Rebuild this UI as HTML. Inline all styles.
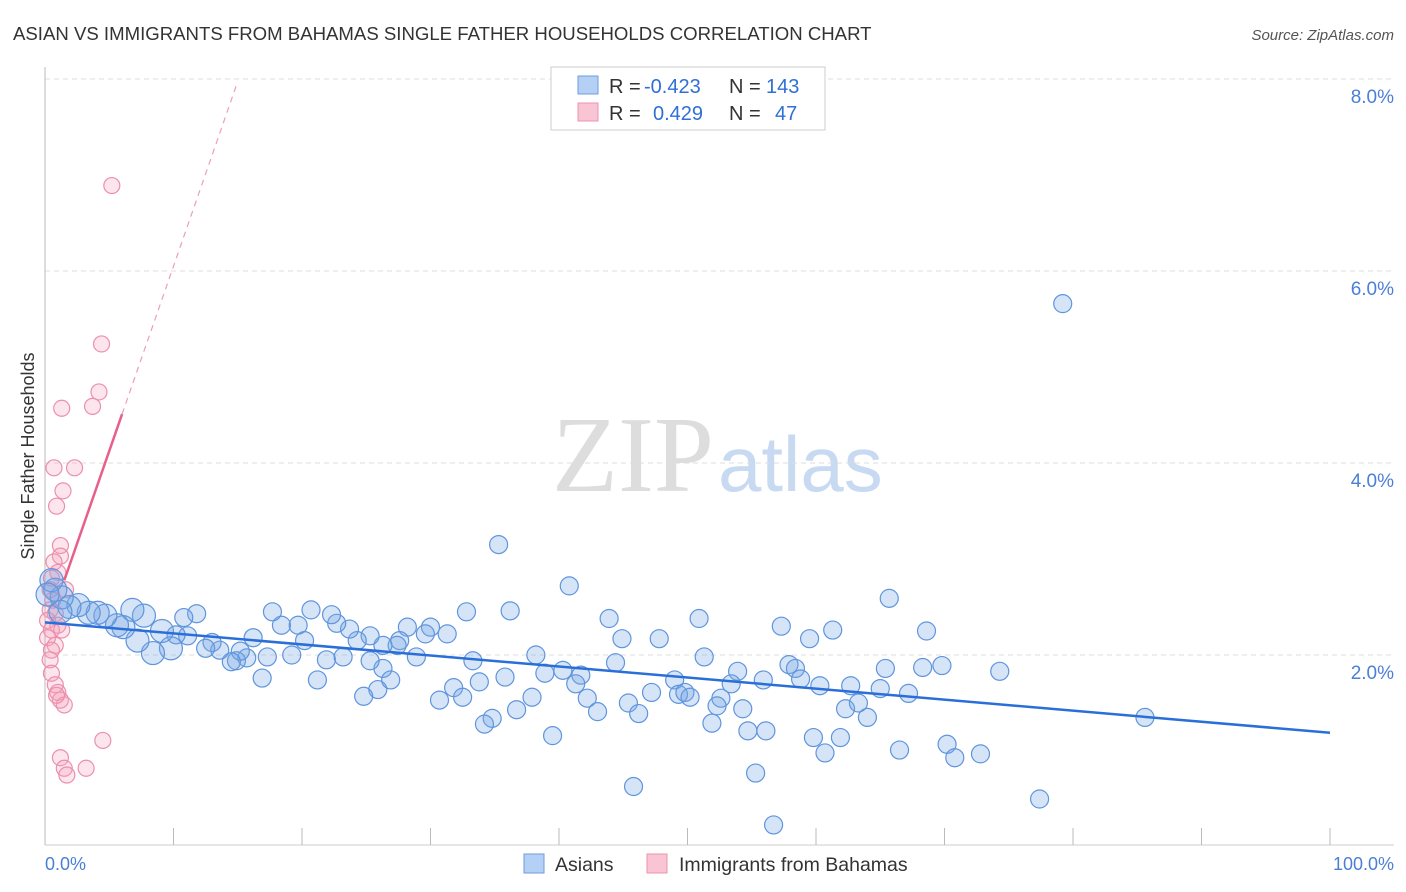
<!DOCTYPE html>
<html><head><meta charset="utf-8"><style>
body{margin:0;background:#fff;font-family:"Liberation Sans",sans-serif;}
svg{display:block}
</style></head><body>
<svg width="1406" height="892" xmlns="http://www.w3.org/2000/svg">
<text x="13" y="40" font-size="18.6" fill="#333">ASIAN VS IMMIGRANTS FROM BAHAMAS SINGLE FATHER HOUSEHOLDS CORRELATION CHART</text>
<text x="1394" y="40" font-size="15" fill="#555" font-style="italic" text-anchor="end">Source: ZipAtlas.com</text>
<text x="714" y="491" font-size="108" font-family="Liberation Serif" fill="#ddd" text-anchor="end">ZIP</text>
<text x="718" y="491" font-size="78" fill="#c8daf2">atlas</text>
<g id="grid"></g>
<g id="axes"></g>
<g id="pink"></g>
<g id="blue"></g>
<g id="lines"></g>
<text x="34" y="456" font-size="18" fill="#333" text-anchor="middle" transform="rotate(-90 34 456)">Single Father Households</text>
<text x="45" y="870" font-size="18" fill="#4a7fd6">0.0%</text>
<text x="1394" y="870" font-size="18" fill="#4a7fd6" text-anchor="end">100.0%</text>
<g>
<rect x="551" y="67" width="274" height="63" fill="#fff" stroke="#ccc"/>
<rect x="578" y="76" width="20" height="18" fill="#b5d0f5" stroke="#6f9be0"/>
<rect x="578" y="103" width="20" height="18" fill="#f9c5d4" stroke="#eb93ae"/>
<text x="609" y="93" font-size="20" fill="#333">R =</text>
<text x="644" y="93" font-size="20" fill="#2f6fd6">-0.423</text>
<text x="729" y="93" font-size="20" fill="#333">N =</text>
<text x="766" y="93" font-size="20" fill="#2f6fd6">143</text>
<text x="609" y="120" font-size="20" fill="#333">R =</text>
<text x="653" y="120" font-size="20" fill="#2f6fd6">0.429</text>
<text x="729" y="120" font-size="20" fill="#333">N =</text>
<text x="775" y="120" font-size="20" fill="#2f6fd6">47</text>
</g>
<g>
<rect x="524" y="854" width="20" height="19" fill="#b5d0f5" stroke="#6f9be0"/>
<text x="555" y="871" font-size="19.5" fill="#333">Asians</text>
<rect x="647" y="854" width="20" height="19" fill="#f9c5d4" stroke="#eb93ae"/>
<text x="679" y="871" font-size="19.5" fill="#333">Immigrants from Bahamas</text>
</g>
</svg>
<script>
const yTicks=[2,4,6,8];
const yTickLabels=["2.0%","4.0%","6.0%","8.0%"];
const xTicks=[0,10,20,30,40,50,60,70,80,90,100];
const blueX=[79.2,35.3,40.8,32.8,36.2,43.9,50.9,65.7,57.3,61.3,68.6,47.8,44.9,59.5,74.3,69.8,68.3,65.4,57.9,58.4,51.3,44.4,38.2,33.3,38.9,40.3,41.7,41.3,53.9,53.4,55.9,58.8,60.3,62.7,65.0,67.2,49.0,47.2,49.3,49.8,50.2,52.6,52.3,42.2,45.4,43.0,46.2,35.8,33.8,31.8,32.5,30.7,37.9,36.7,34.8,34.2,39.5,51.9,54.3,54.7,56.1,62.3,63.3,64.0,59.8,61.9,60.7,66.5,70.2,70.8,72.8,55.3,45.8,56.7,77.4,85.6,30.0,28.2,31.3,29.6,27.6,27.4,26.3,28.9,26.3,25.9,24.8,26.9,25.3,24.3,23.7,22.7,22.3,20.7,19.7,18.4,17.7,20.2,21.9,23.2,25.3,21.2,19.2,17.3,16.2,16.9,15.7,14.9,15.2,14.5,13.6,13.0,12.5,11.8,10.8,11.1,10.2,9.8,9.1,8.4,7.2,7.7,6.8,6.1,5.6,4.7,4.1,3.4,2.6,1.9,1.3,0.8,0.5,1.2,0.2];
const blueY=[5.66,3.15,2.72,2.45,2.46,2.38,2.38,2.59,2.30,2.26,2.25,2.17,2.17,2.17,1.83,1.89,1.87,1.86,1.90,1.86,1.98,1.92,2.00,1.94,1.81,1.84,1.79,1.70,1.83,1.70,1.74,1.75,1.68,1.68,1.65,1.60,1.74,1.61,1.59,1.61,1.56,1.55,1.47,1.55,1.50,1.41,1.39,1.77,1.72,1.66,1.56,1.53,1.56,1.43,1.34,1.28,1.16,1.29,1.44,1.21,1.21,1.44,1.50,1.35,1.14,1.14,0.98,1.01,1.07,0.93,0.97,0.77,0.63,0.23,0.50,1.35,2.29,2.29,2.22,2.22,2.15,2.10,2.10,1.98,1.86,1.64,1.57,1.74,2.20,2.15,2.27,2.33,2.42,2.47,2.31,2.31,2.45,2.15,1.95,1.98,1.94,1.74,2.00,1.98,2.18,1.76,1.97,1.94,2.04,1.93,2.05,2.13,2.07,2.43,2.39,2.20,2.21,2.07,2.25,2.02,2.15,2.41,2.47,2.29,2.31,2.41,2.44,2.44,2.52,2.50,2.60,2.68,2.78,2.45,2.63];
const pinkX=[5.2,4.4,4.2,3.7,1.3,0.7,2.3,1.4,0.9,1.2,1.2,0.7,1.0,0.5,0.4,0.6,0.4,0.8,0.2,1.0,0.5,0.2,0.8,0.5,0.4,0.5,0.8,1.0,1.2,1.5,0.9,4.5,1.2,1.5,1.7,3.2,1.6,1.3];
const pinkY=[6.89,5.24,4.74,4.59,4.57,3.95,3.95,3.71,3.55,3.14,3.03,2.97,2.86,2.80,2.68,2.57,2.47,2.43,2.36,2.31,2.26,2.18,2.10,2.05,1.95,1.81,1.69,1.61,1.53,1.48,1.58,1.11,0.93,0.82,0.75,0.82,2.68,2.26];
const blueTrend=[2.34,1.19];
const pinkTrend=[2.2,0.385];
const NS="http://www.w3.org/2000/svg";
const X0=45,X1=1330,Y0=847,PX=96;
const sx=v=>X0+(X1-X0)*v/100, sy=v=>Y0-v*PX;
function mk(t,a,p){const e=document.createElementNS(NS,t);for(const k in a)e.setAttribute(k,a[k]);document.getElementById(p).appendChild(e);return e;}
yTicks.forEach((t,i)=>{
 const g=mk('line',{x1:X0,x2:1394,y1:sy(t),y2:sy(t),stroke:'#ddd','stroke-dasharray':'5,4'},'grid');
 
 
 const l=mk('text',{x:1394,y:sy(t)+24,'font-size':19,fill:'#4a7fd6','text-anchor':'end'},'grid');
 l.textContent=yTickLabels[i];
 
 
});
const ax=mk('line',{x1:X0,x2:X0,y1:67,y2:845,stroke:'#bbb'},'axes');


const bx=mk('line',{x1:X0,x2:1394,y1:845,y2:845,stroke:'#ccc'},'axes');


xTicks.forEach(t=>{
 const e=mk('line',{x1:sx(t),x2:sx(t),y1:828,y2:845,stroke:'#bbb'},'axes');
 
 
});
pinkX.forEach((x,i)=>{
 const c=mk('circle',{cx:sx(x),cy:sy(pinkY[i]),r:8,fill:'rgba(244,160,188,0.28)',stroke:'#ec8fae','stroke-width':1.2},'pink');
 
 
});
blueX.forEach((x,i)=>{
 const r=x<10?11.5:9;
 const c=mk('circle',{cx:sx(x),cy:sy(blueY[i]),r:r,fill:'rgba(120,165,230,0.3)',stroke:'#5f95dd','stroke-width':1.2},'blue');
 
 
});
const bl=mk('line',{x1:sx(0),y1:sy(blueTrend[0]),x2:sx(100),y2:sy(blueTrend[1]),stroke:'#2a6fd8','stroke-width':2.5},'lines');


const pf=x=>pinkTrend[0]+pinkTrend[1]*x;
const pl=mk('line',{x1:sx(1.5),y1:sy(pf(1.5)),x2:sx(6),y2:sy(pf(6)),stroke:'#e8608a','stroke-width':2.5},'lines');


const pd=mk('line',{x1:sx(6),y1:sy(pf(6)),x2:sx(15),y2:sy(pf(15)),stroke:'#eaa0b8','stroke-width':1.2,'stroke-dasharray':'6,5'},'lines');


</script>
</body></html>
